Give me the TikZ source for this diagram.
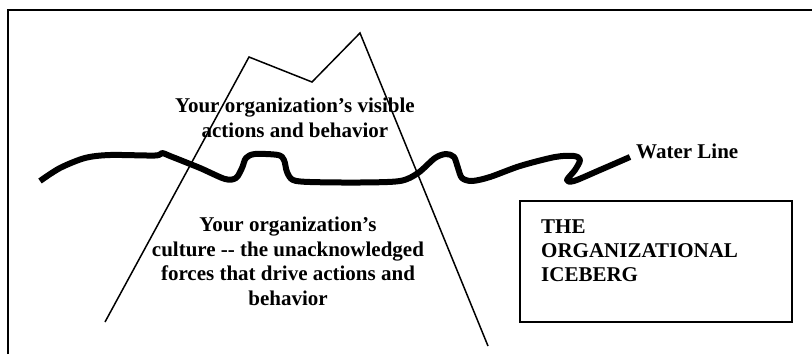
\documentclass[tikz,border=0pt]{standalone}
\usepackage{fontspec}
\setmainfont{Liberation Serif}
\begin{document}
\begin{tikzpicture}[x=1pt,y=-1pt,
  labeltext/.style={font=\bfseries\fontsize{21}{24.5}\selectfont, inner sep=0pt, align=center},
  boxtext/.style={font=\bfseries\fontsize{21}{24}\selectfont, inner sep=0pt, align=left},
  berg/.style={line width=1.5pt, line join=miter},
  water/.style={line width=6pt, line cap=butt, line join=round},
  titlebox/.style={draw, line width=2pt, minimum width=272pt, minimum height=121pt,
    anchor=north west, inner sep=0pt, outer sep=0pt}]
\useasboundingbox (0,0) rectangle (812,354);

% page frame: top and left rules only
\draw[line width=2pt] (7.5,354) |- (812,9.5);

% iceberg outline
\coordinate (bl) at (105,322);
\coordinate (p1) at (249,57);
\coordinate (v)  at (312,82);
\coordinate (p2) at (360,33);
\coordinate (br) at (488,346);
\draw[berg] (bl) -- (p1) -- (v) -- (p2) -- (br);

% water line
\draw[water] plot[smooth, tension=0.5] coordinates {
  (40,181) (60,168) (85,158) (110,155) (155,155.5) (162,153) (170,156)
  (200,168) (225,179) (236,178) (242,168) (246,158) (255,154) (278,155)
  (284,160) (287,172) (293,180) (310,182) (360,182.5) (400,181) (418,173)
  (435,158) (446,154) (454,157) (458,168) (462,178) (472,181) (490,177)
  (520,166) (555,157) (574,156) (580,160) (575,170) (567,180) (574,181)
  (600,170) (630,157)};

% labels (multi-line nodes are anchored at the baseline of their last line)
\node[labeltext, anchor=base] (visible) at (295,137)
  {Your organization’s visible\\actions and behavior};
\node[labeltext, anchor=base] (culture) at (288,305)
  {Your organization’s\\culture -{}- the unacknowledged\\forces that drive actions and\\behavior};
\node[boxtext, anchor=base west] (waterlabel) at (636,158) {Water Line};

% title box
\node[titlebox] (title) at (520,201) {};
\node[boxtext, anchor=base west] (titletext) at (541,281)
  {THE\\ORGANIZATIONAL\\ICEBERG};
\end{tikzpicture}
\end{document}
